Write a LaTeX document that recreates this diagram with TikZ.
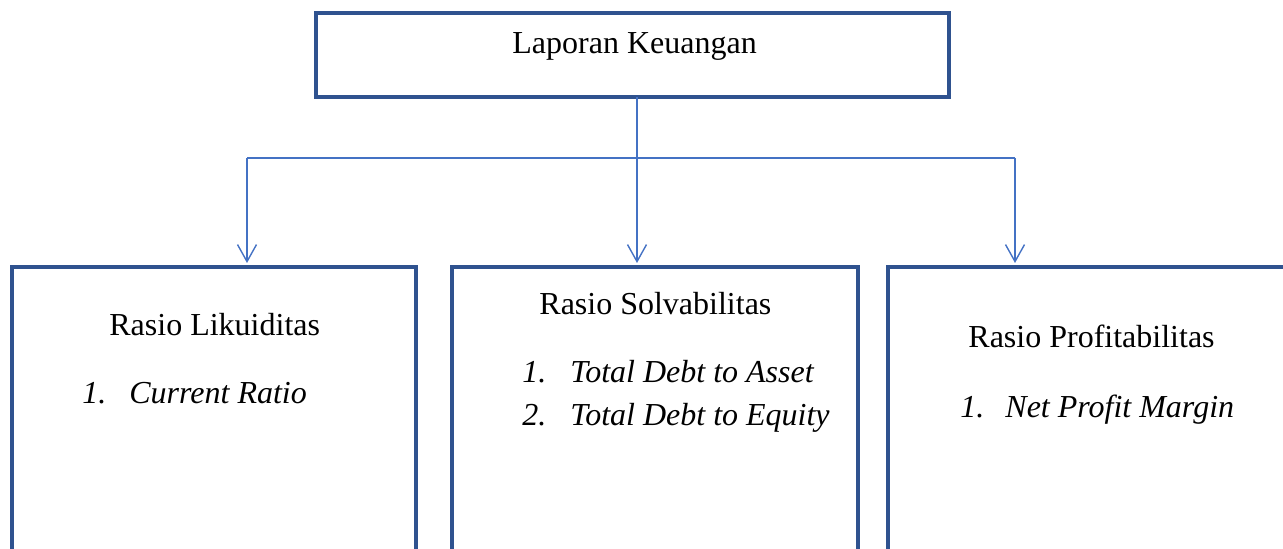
\documentclass[tikz,border=0pt]{standalone}
\usepackage{fontspec}
\setmainfont{Liberation Serif}
\usetikzlibrary{arrows.meta}
\definecolor{boxblue}{HTML}{2F528F}
\definecolor{lineblue}{HTML}{4472C4}
\begin{document}
\begin{tikzpicture}[x=0.5pt,y=-0.5pt,
  frame/.style={draw=boxblue,line width=1.6pt,rectangle,inner sep=0pt,outer sep=0pt,anchor=north west},
  conn/.style={draw=lineblue,line width=0.7pt},
  arr/.style={conn,shorten >=2pt,-{Straight Barb[length=8.5pt,width=9.5pt]}},
  txt/.style={anchor=base west,inner sep=0pt,font=\fontsize{16}{19}\selectfont},
  itxt/.style={txt,font=\fontsize{16}{19}\selectfont\itshape}]
\useasboundingbox (0,0) rectangle (1283,549);
\clip (0,0) rectangle (1283,549);
% boxes
\node[frame,minimum width=316.5pt,minimum height=42pt] (top) at (316,13) {};
\node[frame,minimum width=202pt,minimum height=200pt] (b1) at (12,267) {};
\node[frame,minimum width=203pt,minimum height=200pt] (b2) at (452,267) {};
\node[frame,minimum width=250pt,minimum height=200pt] (b3) at (888,267) {};
% texts
\node[txt] (t0) at (512,54) {Laporan Keuangan};
\node[txt] (t1) at (109,336) {Rasio Likuiditas};
\node[itxt] (t1a) at (82,404) {1.};
\node[itxt] (t1b) at (129,404) {Current Ratio};
\node[txt] (t2) at (539,315) {Rasio Solvabilitas};
\node[itxt] (t2a) at (522,383) {1.};
\node[itxt] (t2b) at (570,383) {Total Debt to Asset};
\node[itxt] (t2c) at (522,425) {2.};
\node[itxt] (t2d) at (570,425) {Total Debt to Equity};
\node[txt] (t3) at (968,348) {Rasio Profitabilitas};
\node[itxt] (t3a) at (960,417) {1.};
\node[itxt] (t3b) at (1005,417) {Net Profit Margin};
% connectors
\coordinate (j) at (637,158);
\coordinate (jl) at (247,158);
\coordinate (jr) at (1015,158);
\draw[arr] (top.south -| j) -- (j |- b2.north);
\draw[conn] (jl) -- (jr);
\draw[arr] (jl) -- (jl |- b1.north);
\draw[arr] (jr) -- (jr |- b3.north);
\end{tikzpicture}
\end{document}
